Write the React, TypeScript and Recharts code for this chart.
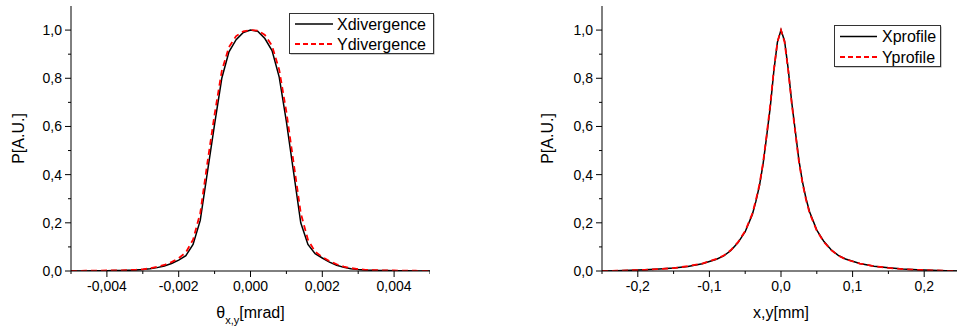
import { LineChart, Line, XAxis, YAxis } from 'recharts';

const FONT = '"Liberation Sans", Arial, sans-serif';

// divergence (left)
const divX = [
  -0.005, -0.0048, -0.0046, -0.0044, -0.0042, -0.004, -0.0038, -0.0036, -0.0034, -0.0032,
  -0.003, -0.0028, -0.0026, -0.0024, -0.0022, -0.002, -0.0018, -0.0016, -0.0014, -0.0012,
  -0.001, -0.0008, -0.0006, -0.0004, -0.0002, 0, 0.0002, 0.0004, 0.0006, 0.0008,
  0.001, 0.0012, 0.0014, 0.0016, 0.0018, 0.002, 0.0022, 0.0024, 0.0026, 0.0028,
  0.003, 0.0032, 0.0034, 0.0036, 0.0038, 0.004, 0.0042, 0.0044, 0.0046, 0.0048, 0.005,
];
const xDivergence = [
  0, 0, 0, 0.001, 0.001, 0.001, 0.002, 0.002, 0.003, 0.004,
  0.006, 0.009, 0.014, 0.021, 0.031, 0.045, 0.064, 0.11, 0.21, 0.41,
  0.61, 0.8, 0.91, 0.96, 0.99, 1.0, 0.995, 0.965, 0.915, 0.805,
  0.62, 0.41, 0.2, 0.11, 0.072, 0.054, 0.037, 0.024, 0.015, 0.009,
  0.006, 0.004, 0.003, 0.002, 0.002, 0.001, 0.001, 0.001, 0, 0, 0,
];
const yDivergence = [
  0, 0, 0.001, 0.001, 0.001, 0.002, 0.002, 0.003, 0.004, 0.005,
  0.007, 0.011, 0.017, 0.025, 0.037, 0.053, 0.077, 0.13, 0.24, 0.45,
  0.65, 0.83, 0.93, 0.975, 0.995, 1.0, 0.998, 0.98, 0.935, 0.835,
  0.66, 0.45, 0.24, 0.13, 0.08, 0.058, 0.041, 0.028, 0.018, 0.012,
  0.008, 0.005, 0.004, 0.003, 0.002, 0.002, 0.001, 0.001, 0.001, 0, 0,
];

// profile (right)
const profX = [
  -0.25, -0.23, -0.21, -0.19, -0.17, -0.15, -0.13, -0.11, -0.09, -0.08, -0.07,
  -0.06, -0.05, -0.04, -0.035, -0.03, -0.025, -0.02, -0.015, -0.01, -0.005, 0,
  0.005, 0.01, 0.015, 0.02, 0.025, 0.03, 0.035, 0.04, 0.05, 0.06, 0.07,
  0.08, 0.09, 0.11, 0.13, 0.15, 0.17, 0.19, 0.21, 0.23, 0.25,
];
const xProfile = [
  0, 0.001, 0.003, 0.005, 0.008, 0.012, 0.019, 0.03, 0.049, 0.063, 0.085,
  0.118, 0.163, 0.235, 0.29, 0.355, 0.445, 0.56, 0.68, 0.83, 0.95, 1.0,
  0.955, 0.84, 0.7, 0.58, 0.46, 0.37, 0.3, 0.245, 0.17, 0.122, 0.088,
  0.065, 0.05, 0.031, 0.02, 0.013, 0.008, 0.005, 0.003, 0.001, 0,
];
const yProfile = [
  0, 0.001, 0.003, 0.005, 0.008, 0.012, 0.02, 0.031, 0.05, 0.064, 0.087,
  0.12, 0.166, 0.238, 0.295, 0.36, 0.45, 0.565, 0.69, 0.835, 0.95, 1.0,
  0.95, 0.835, 0.695, 0.575, 0.455, 0.365, 0.295, 0.24, 0.167, 0.12, 0.087,
  0.064, 0.049, 0.031, 0.02, 0.013, 0.008, 0.005, 0.003, 0.001, 0,
];

const yTicks = [0, 0.1, 0.2, 0.3, 0.4, 0.5, 0.6, 0.7, 0.8, 0.9, 1.0];
const divTicks = [-0.005, -0.004, -0.003, -0.002, -0.001, 0, 0.001, 0.002, 0.003, 0.004, 0.005];
const profTicks = [-0.25, -0.2, -0.15, -0.1, -0.05, 0, 0.05, 0.1, 0.15, 0.2, 0.25];

const divData = divX.map((x, i) => ({ x, a: xDivergence[i], b: yDivergence[i] }));
const profData = profX.map((x, i) => ({ x, a: xProfile[i], b: yProfile[i] }));

const fmt = (v: number, d: number) => v.toFixed(d).replace('.', ',');

function makeXTick(step: number, digits: number) {
  return (props: any) => {
    const { x, y, payload } = props;
    const major = Math.round(payload.value / step) % 2 === 0;
    return (
      <g>
        <line x1={x} x2={x} y1={y} y2={y + (major ? 6 : 3)} stroke="#000" />
        {major && (
          <text x={x} y={y + 20} textAnchor="middle" fontSize={14} fontFamily={FONT} fill="#000">
            {fmt(payload.value, digits)}
          </text>
        )}
      </g>
    );
  };
}

function YTick(props: any) {
  const { x, y, payload } = props;
  const major = Math.round(payload.value * 10) % 2 === 0;
  return (
    <g>
      <line x1={x - (major ? 6 : 3)} x2={x} y1={y} y2={y} stroke="#000" />
      {major && (
        <text x={x - 9} y={y + 5} textAnchor="end" fontSize={14} fontFamily={FONT} fill="#000">
          {fmt(payload.value, 1)}
        </text>
      )}
    </g>
  );
}

const yTitle = (dx: number) => (props: any) => {
  const vb = props.viewBox;
  const cx = vb.x + dx;
  const cy = vb.y + vb.height / 2;
  return (
    <text x={cx} y={cy} transform={`rotate(-90 ${cx} ${cy})`} textAnchor="middle" dominantBaseline="central"
      fontSize={16} fontFamily={FONT} fill="#000">
      P[A.U.]
    </text>
  );
};

const xTitle = (main: string, sub: string, rest: string) => (props: any) => {
  const vb = props.viewBox;
  return (
    <text x={vb.x + vb.width / 2} y={vb.y + 47} textAnchor="middle" fontSize={16} fontFamily={FONT} fill="#000">
      {main}
      {sub && <tspan fontSize={11} dy={6}>{sub}</tspan>}
      <tspan dy={sub ? -6 : 0}>{rest}</tspan>
    </text>
  );
};

function Plot({ data, domain, ticks, step, digits, width, yWidth, titleDx, title }: any) {
  return (
    <LineChart width={width} height={330} data={data} margin={{ top: 6, right: 0, left: 0, bottom: 0 }}>
      <XAxis dataKey="x" type="number" domain={domain} ticks={ticks} interval={0} allowDataOverflow
        tickSize={0} tickMargin={0} tick={makeXTick(step, digits)} axisLine={{ stroke: '#000' }} height={59}
        label={title} />
      <YAxis type="number" domain={[0, 1.1]} ticks={yTicks} interval={0} allowDataOverflow
        tickSize={0} tickMargin={0} tick={YTick} axisLine={{ stroke: '#000' }} width={yWidth}
        label={yTitle(titleDx)} />
      <Line type="linear" dataKey="a" stroke="#000" strokeWidth={1.5} dot={false} isAnimationActive={false} />
      <Line type="linear" dataKey="b" stroke="#ff0000" strokeWidth={1.8} strokeDasharray="6 4" dot={false} isAnimationActive={false} />
    </LineChart>
  );
}

function LegendBox({ x, y, w, h, rows, lineX1, lineX2, textX, labels }: any) {
  return (
    <g>
      <rect x={x + 1} y={y + 1} width={w} height={h} fill="#999" />
      <rect x={x} y={y} width={w} height={h} fill="#fff" stroke="#333" />
      <line x1={lineX1} x2={lineX2} y1={rows[0]} y2={rows[0]} stroke="#000" strokeWidth={1.5} />
      <line x1={lineX1} x2={lineX2} y1={rows[1]} y2={rows[1]} stroke="#ff0000" strokeWidth={1.8} strokeDasharray="5 3" />
      {labels.map((t: string, i: number) => (
        <text key={t} x={textX} y={rows[i] + 5.5} fontSize={16} fontFamily={FONT} fill="#000">{t}</text>
      ))}
    </g>
  );
}

export default function App() {
  return (
    <div style={{ position: 'absolute', left: 0, top: 0, width: 957, height: 330, overflow: 'hidden', background: '#fff' }}>
      <div style={{ position: 'absolute', left: 0, top: 0 }}>
        <Plot data={divData} domain={[-0.005, 0.005]} ticks={divTicks} step={0.001} digits={3}
          width={430} yWidth={71} titleDx={18.5} title={xTitle('θ', 'x,y', '[mrad]')} />
      </div>
      <div style={{ position: 'absolute', left: 530, top: 0 }}>
        <Plot data={profData} domain={[-0.25, 0.25]} ticks={profTicks} step={0.05} digits={1}
          width={430} yWidth={72} titleDx={17} title={xTitle('x,y[mm]', '', '')} />
      </div>
      <svg width={957} height={330} style={{ position: 'absolute', left: 0, top: 0, pointerEvents: 'none' }}>
        <LegendBox x={289.5} y={13.5} w={144} h={40} rows={[24, 44]} lineX1={295} lineX2={333} textX={337}
          labels={['Xdivergence', 'Ydivergence']} />
        <LegendBox x={834.5} y={25.5} w={106} h={41} rows={[36.5, 57]} lineX1={840} lineX2={877} textX={882}
          labels={['Xprofile', 'Yprofile']} />
      </svg>
    </div>
  );
}
